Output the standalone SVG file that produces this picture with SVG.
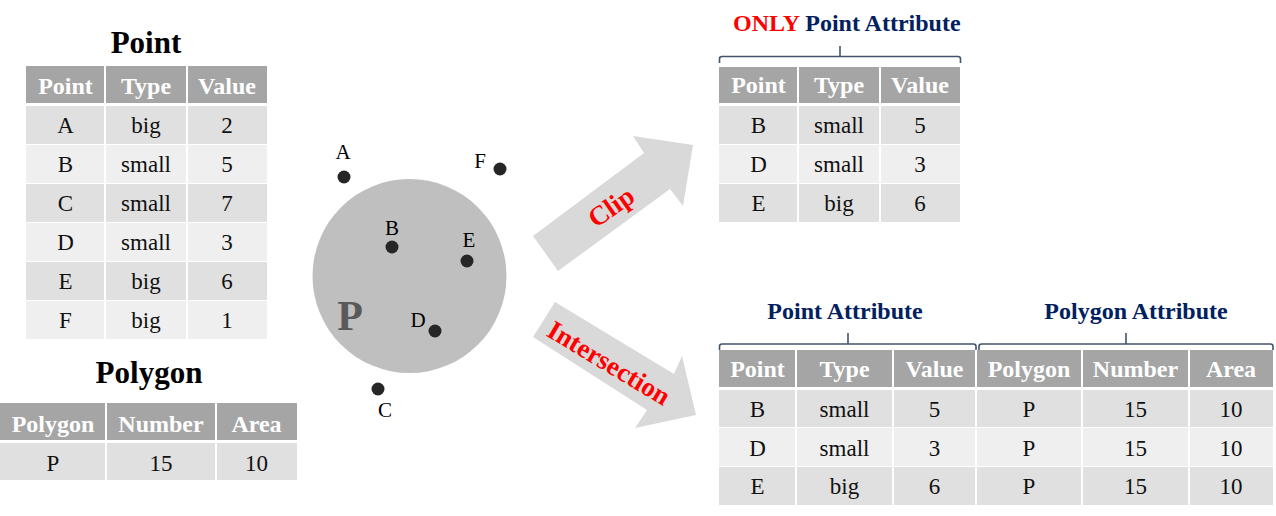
<svg xmlns="http://www.w3.org/2000/svg" width="1276" height="516" viewBox="0 0 1276 516">
<style>
text{font-family:"Liberation Serif","Times New Roman",serif;}
.title{font-size:31px;font-weight:bold;fill:#000;text-anchor:middle;}
.sub{font-size:24px;font-weight:bold;fill:#002060;}
.hd{fill:#a5a5a5;}
.r1{fill:#e0e0e0;}
.r2{fill:#efefef;}
.ht{font-size:24px;font-weight:bold;fill:#fff;text-anchor:middle;}
.ct{font-size:23px;fill:#111;text-anchor:middle;}
.sep{stroke:#fff;stroke-width:2;}
.brace{fill:none;stroke:#44546a;stroke-width:1.6;}
.lbl{font-size:21px;fill:#000;text-anchor:middle;}
.dot{fill:#262626;}
.arrow{fill:#d9d9d9;}
.at{font-size:27px;font-weight:bold;fill:#ff0000;text-anchor:middle;}
</style>

<!-- Left: Point table -->
<g id="point-table">
<text class="title" x="146" y="53">Point</text>
<rect class="hd" x="26" y="66" width="241" height="37"/>
<rect class="r1" x="26" y="106" width="241" height="38"/>
<rect class="r2" x="26" y="145" width="241" height="38"/>
<rect class="r1" x="26" y="184" width="241" height="38"/>
<rect class="r2" x="26" y="223" width="241" height="38"/>
<rect class="r1" x="26" y="262" width="241" height="38"/>
<rect class="r2" x="26" y="301" width="241" height="38"/>
<line class="sep" x1="105" y1="66" x2="105" y2="339"/>
<line class="sep" x1="187" y1="66" x2="187" y2="339"/>
<text class="ht" x="65.5" y="94">Point</text>
<text class="ht" x="146" y="94">Type</text>
<text class="ht" x="227" y="94">Value</text>
<text class="ct" x="65.5" y="133">A</text><text class="ct" x="146" y="133">big</text><text class="ct" x="227" y="133">2</text>
<text class="ct" x="65.5" y="172">B</text><text class="ct" x="146" y="172">small</text><text class="ct" x="227" y="172">5</text>
<text class="ct" x="65.5" y="211">C</text><text class="ct" x="146" y="211">small</text><text class="ct" x="227" y="211">7</text>
<text class="ct" x="65.5" y="250">D</text><text class="ct" x="146" y="250">small</text><text class="ct" x="227" y="250">3</text>
<text class="ct" x="65.5" y="289">E</text><text class="ct" x="146" y="289">big</text><text class="ct" x="227" y="289">6</text>
<text class="ct" x="65.5" y="328">F</text><text class="ct" x="146" y="328">big</text><text class="ct" x="227" y="328">1</text>
</g>

<!-- Left: Polygon table -->
<g id="polygon-table">
<text class="title" x="149" y="383">Polygon</text>
<rect class="hd" x="0" y="403" width="297" height="37"/>
<rect class="r1" x="0" y="443" width="297" height="37"/>
<line class="sep" x1="106" y1="403" x2="106" y2="480"/>
<line class="sep" x1="216" y1="403" x2="216" y2="480"/>
<text class="ht" x="53" y="432">Polygon</text>
<text class="ht" x="161" y="432">Number</text>
<text class="ht" x="256.5" y="432">Area</text>
<text class="ct" x="53" y="471">P</text><text class="ct" x="161" y="471">15</text><text class="ct" x="256.5" y="471">10</text>
</g>

<!-- Middle: polygon with points -->
<g id="polygon-P">
<circle cx="409.5" cy="276" r="97" fill="#bfbfbf"/>
<text x="350" y="330" font-size="42" font-weight="bold" fill="#595959" text-anchor="middle">P</text>
</g>
<g id="point-A"><circle class="dot" cx="344" cy="177" r="6.5"/><text class="lbl" x="343" y="159">A</text></g>
<g id="point-B"><circle class="dot" cx="392" cy="247" r="6.5"/><text class="lbl" x="392" y="235">B</text></g>
<g id="point-C"><circle class="dot" cx="378" cy="389" r="6.5"/><text class="lbl" x="385" y="417">C</text></g>
<g id="point-D"><circle class="dot" cx="435" cy="331" r="6.5"/><text class="lbl" x="418" y="327">D</text></g>
<g id="point-E"><circle class="dot" cx="467" cy="261" r="6.5"/><text class="lbl" x="469" y="247">E</text></g>
<g id="point-F"><circle class="dot" cx="500" cy="169" r="6.5"/><text class="lbl" x="480" y="168">F</text></g>

<!-- Connectors: block arrows -->
<g id="connectors">
<g id="arrow-clip">
<polygon class="arrow" points="533,236 644,153 633,136 693,145 683,206 670,189 558,271"/>
<text class="at" transform="translate(611,207) rotate(-35)" x="0" y="9">Clip</text>
</g>
<g id="arrow-intersection">
<polygon class="arrow" points="555,302 674,374 682,356 696,415 635,428 647,410 533,337"/>
<text class="at" transform="translate(609,363) rotate(31)" x="0" y="9">Intersection</text>
</g>
</g>

<!-- Right top: Clip result -->
<g id="clip-table">
<text class="sub" x="733" y="31"><tspan fill="#ff0000">ONLY</tspan> Point Attribute</text>
<path class="brace" d="M719.5,63 V59 Q719.5,56.5 722,56.5 H958 Q960.5,56.5 960.5,59 V63 M840,56.5 V46"/>
<rect class="hd" x="719" y="67" width="241" height="36"/>
<rect class="r1" x="719" y="106" width="241" height="38"/>
<rect class="r2" x="719" y="145" width="241" height="38"/>
<rect class="r1" x="719" y="184" width="241" height="38"/>
<line class="sep" x1="798" y1="67" x2="798" y2="222"/>
<line class="sep" x1="880" y1="67" x2="880" y2="222"/>
<text class="ht" x="758.5" y="93">Point</text>
<text class="ht" x="839" y="93">Type</text>
<text class="ht" x="920" y="93">Value</text>
<text class="ct" x="758.5" y="133">B</text><text class="ct" x="839" y="133">small</text><text class="ct" x="920" y="133">5</text>
<text class="ct" x="758.5" y="172">D</text><text class="ct" x="839" y="172">small</text><text class="ct" x="920" y="172">3</text>
<text class="ct" x="758.5" y="211">E</text><text class="ct" x="839" y="211">big</text><text class="ct" x="920" y="211">6</text>
</g>

<!-- Right bottom: Intersection result -->
<g id="intersection-table">
<text class="sub" x="845" y="319" text-anchor="middle">Point Attribute</text>
<text class="sub" x="1136" y="319" text-anchor="middle">Polygon Attribute</text>
<path class="brace" d="M719.5,350 V346.5 Q719.5,344 722,344 H973.5 Q976,344 976,346.5 V350 M848,344 V333"/>
<path class="brace" d="M979,350 V346.5 Q979,344 981.5,344 H1270.5 Q1273,344 1273,346.5 V350 M1126,344 V333"/>
<rect class="hd" x="719" y="350" width="554" height="37"/>
<rect class="r1" x="719" y="390" width="554" height="37"/>
<rect class="r2" x="719" y="428" width="554" height="38"/>
<rect class="r1" x="719" y="467" width="554" height="38"/>
<line class="sep" x1="796" y1="350" x2="796" y2="505"/>
<line class="sep" x1="893" y1="350" x2="893" y2="505"/>
<line class="sep" x1="976" y1="350" x2="976" y2="505"/>
<line class="sep" x1="1082" y1="350" x2="1082" y2="505"/>
<line class="sep" x1="1189" y1="350" x2="1189" y2="505"/>
<text class="ht" x="757.5" y="377">Point</text>
<text class="ht" x="844.5" y="377">Type</text>
<text class="ht" x="934.5" y="377">Value</text>
<text class="ht" x="1029" y="377">Polygon</text>
<text class="ht" x="1135.5" y="377">Number</text>
<text class="ht" x="1231" y="377">Area</text>
<text class="ct" x="757.5" y="417">B</text><text class="ct" x="844.5" y="417">small</text><text class="ct" x="934.5" y="417">5</text>
<text class="ct" x="1029" y="417">P</text><text class="ct" x="1135.5" y="417">15</text><text class="ct" x="1231" y="417">10</text>
<text class="ct" x="757.5" y="456">D</text><text class="ct" x="844.5" y="456">small</text><text class="ct" x="934.5" y="456">3</text>
<text class="ct" x="1029" y="456">P</text><text class="ct" x="1135.5" y="456">15</text><text class="ct" x="1231" y="456">10</text>
<text class="ct" x="757.5" y="494">E</text><text class="ct" x="844.5" y="494">big</text><text class="ct" x="934.5" y="494">6</text>
<text class="ct" x="1029" y="494">P</text><text class="ct" x="1135.5" y="494">15</text><text class="ct" x="1231" y="494">10</text>
</g>
</svg>
